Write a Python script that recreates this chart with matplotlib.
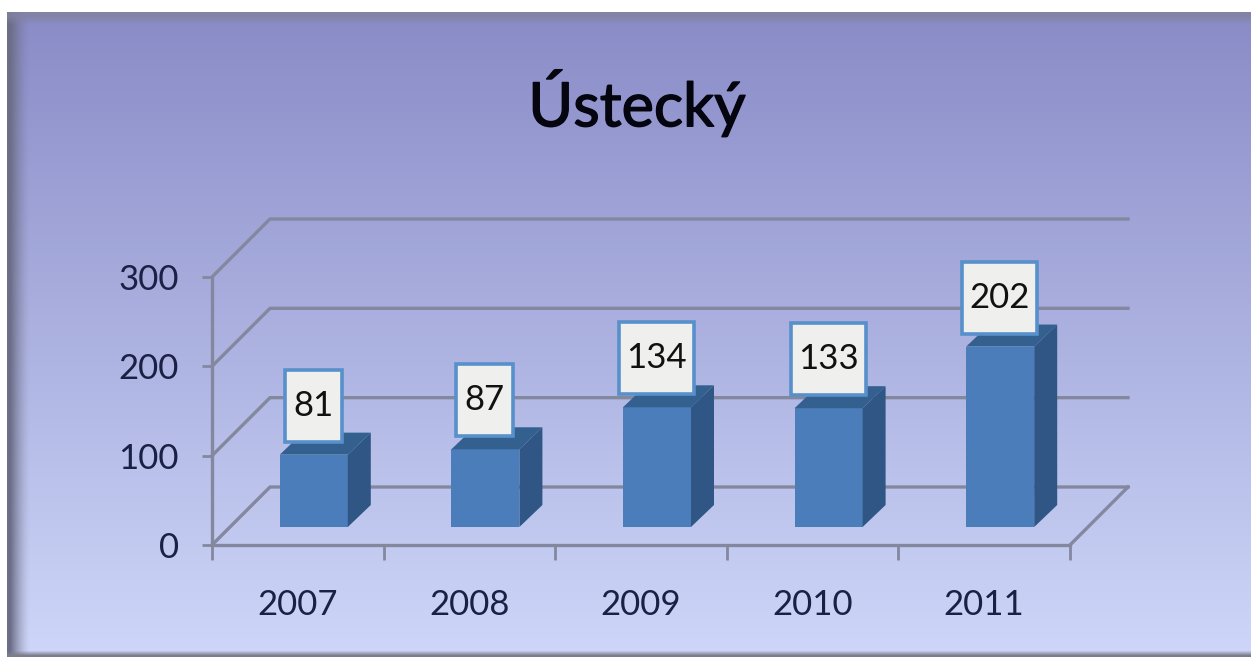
import numpy as np
import matplotlib
matplotlib.use('Agg')
import matplotlib.pyplot as plt
import matplotlib.patheffects as pe
from matplotlib.patches import Rectangle

years = ['2007', '2008', '2009', '2010', '2011']
values = [81, 87, 134, 133, 202]
y_ticks = [0, 100, 200, 300]
title = 'Ústecký'

W, H = 1251, 657
plt.rcParams['font.family'] = ['Lato', 'DejaVu Sans']

fig = plt.figure(figsize=(W / 100, H / 100), dpi=100, facecolor='white')

# fondo con degradado y borde gris
bg = fig.add_axes([0, 0, 1, 1], zorder=0)
top_c = np.array([136, 138, 198]) / 255
bot_c = np.array([206, 215, 249]) / 255
t = np.linspace(0, 1, H)[:, None, None]
img = np.ones((H, W, 3)) * (top_c + (bot_c - top_c) * t)
edge = np.array([108, 110, 135]) / 255
xs = np.arange(W)
left = np.clip((30 - xs) / 20, 0, 1)[None, :, None] ** 1.5
img = img * (1 - left) + edge * left
ys = np.arange(H)
upper = np.clip((24 - ys) / 8, 0, 1)[:, None, None] * 0.8
img = img * (1 - upper) + np.array([130, 130, 160]) / 255 * upper
lower = np.clip((ys - 650) / 5, 0, 1)[:, None, None]
img = img * (1 - lower) + np.array([125, 125, 140]) / 255 * lower
img[:12, :] = 1
img[:, :7] = 1
bg.imshow(img, aspect='auto', interpolation='bilinear')
bg.axis('off')

# ejes en el plano frontal
x0, x1, y0, y1 = 212, 1070, 545, 277
ax = fig.add_axes([x0 / W, (H - y0) / H, (x1 - x0) / W, (y0 - y1) / H], zorder=1)
ax.patch.set_alpha(0)
ax.set_xlim(0, 5)
ax.set_ylim(0, 300)
px_x = 5 / (x1 - x0)
px_y = 300 / (y0 - y1)

grid_c = '#84889f'
back_dx, back_dy = 58 * px_x, 58 * px_y
for v in y_ticks:
    ax.plot([0, back_dx, 5 + back_dx], [v, v + back_dy, v + back_dy],
            color=grid_c, lw=2.4, clip_on=False, zorder=1)
ax.plot([5, 5 + back_dx], [0, back_dy], color=grid_c, lw=2.4, clip_on=False, zorder=1)

for s in ['top', 'right']:
    ax.spines[s].set_visible(False)
for s in ['left', 'bottom']:
    ax.spines[s].set_color(grid_c)
    ax.spines[s].set_linewidth(2.4)

ax.set_yticks(y_ticks)
ax.set_xticks(range(6))
ax.set_xticklabels([])
ax.set_xticks(np.arange(len(years)) + 0.5, minor=True)
ax.set_xticklabels(years, minor=True)
ax.tick_params(axis='x', which='major', length=11, width=2, color=grid_c)
ax.tick_params(axis='x', which='minor', length=0, pad=32, labelsize=25, labelcolor='#1b2145')
ax.tick_params(axis='y', length=7, width=2, color=grid_c, pad=17, labelsize=25, labelcolor='#1b2145')

# barras 3d: frente, tapa y lateral
bar_w = 68 * px_x
off_x, off_y = 16 * px_x, 18 * px_y
dep_x, dep_y = 23 * px_x, 22 * px_y
for i, v in enumerate(values):
    l = i + 0.5 + off_x - bar_w / 2
    r = l + bar_w
    b = off_y
    t_ = off_y + v
    ax.bar(l + bar_w / 2, v, width=bar_w, bottom=b, color='#4a7dba', zorder=3, clip_on=False)
    ax.fill([r, r + dep_x, r + dep_x, r], [b, b + dep_y, t_ + dep_y, t_],
            color='#2f5684', lw=0, zorder=3, clip_on=False)
    ax.fill([l, l + dep_x, r + dep_x, r], [t_, t_ + dep_y, t_ + dep_y, t_],
            color='#33608f', lw=0, zorder=3, clip_on=False)

    # etiqueta con recuadro
    box_w = (75 if v >= 100 else 57) * px_x
    box_h = 72 * px_y
    cx = i + 0.5 + off_x - 0.5 * px_x
    box_b = t_ + 13 * px_y
    ax.add_patch(Rectangle((cx - box_w / 2, box_b), box_w, box_h, facecolor='#efefee',
                           edgecolor='#5790ca', lw=2.6, zorder=4, clip_on=False))
    ax.text(cx, box_b + box_h / 2, str(v), ha='center', va='center', fontsize=25,
            color='#111111', zorder=5, clip_on=False)

fig.text(637 / W, 1 - 103 / H, title, ha='center', va='center', fontsize=44,
         color='#05050f', zorder=6,
         path_effects=[pe.withStroke(linewidth=1.0, foreground='#05050f')])

fig.savefig('out.png', dpi=100)
